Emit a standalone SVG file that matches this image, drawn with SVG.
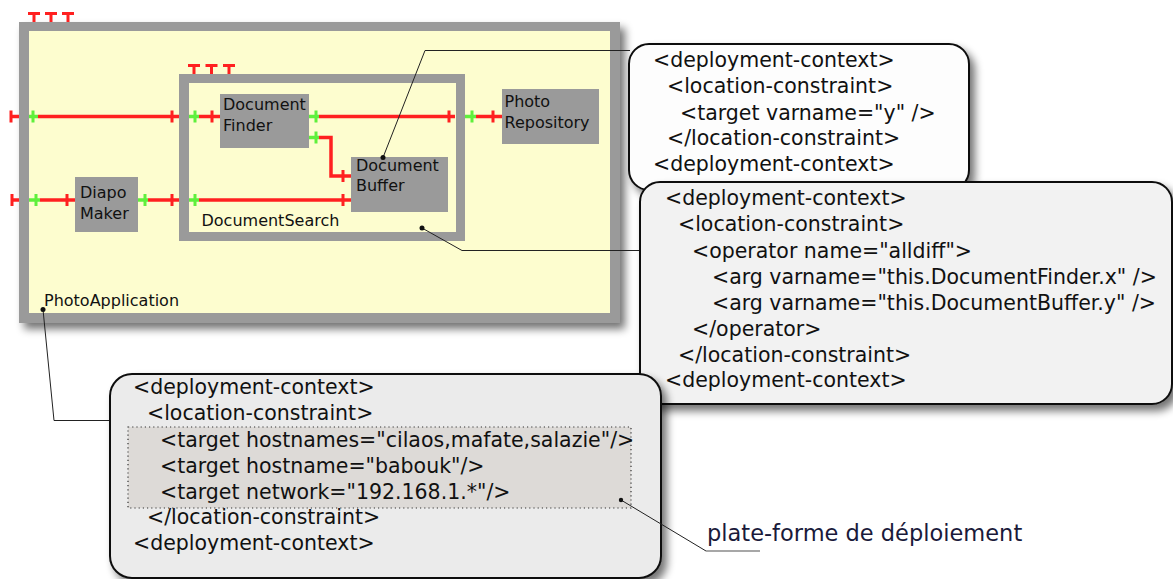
<svg xmlns="http://www.w3.org/2000/svg" width="1173" height="579" viewBox="0 0 1173 579">
<defs>
<filter id="sh" x="-10%" y="-10%" width="125%" height="130%">
<feGaussianBlur in="SourceAlpha" stdDeviation="4"/>
<feOffset dx="5" dy="6" result="b"/>
<feComponentTransfer><feFuncA type="linear" slope="0.55"/></feComponentTransfer>
<feMerge><feMergeNode/><feMergeNode in="SourceGraphic"/></feMerge>
</filter>
<style>
.frame{fill:#9a9a9a}
.inner{fill:#fdfdcf}
.node{fill:#9a9a9a}
.lbl{font-family:"DejaVu Sans","Liberation Sans",sans-serif;font-size:16px;fill:#111}
.xml{font-family:"DejaVu Sans","Liberation Sans",sans-serif;font-size:20.5px;fill:#111}
.wire{fill:none;stroke:#ff2020;stroke-width:3.5}
.gw{fill:none;stroke:#5ff03c;stroke-width:3.5}
.rt{fill:none;stroke:#ff2020;stroke-width:3}
.gt{fill:none;stroke:#5ff03c;stroke-width:3}
.lead{fill:none;stroke:#222;stroke-width:1}
.dot{fill:#111}
.box{stroke:#111;stroke-width:2}
</style>
</defs>
<rect width="1173" height="579" fill="#ffffff"/>

<g id="photoapplication">
<g filter="url(#sh)">
<rect class="frame" x="19" y="22" width="601" height="301"/>
</g>
<rect class="inner" x="29" y="31" width="581" height="282"/>
<path class="rt" d="M28,13.5 H40 M34,13.5 V22 M45,13.5 H57 M51,13.5 V22 M62,13.5 H74 M68,13.5 V22"/>
<text class="lbl" x="44" y="305.5">PhotoApplication</text>
</g>

<g id="documentsearch">
<rect class="frame" x="179" y="74" width="286" height="167"/>
<rect class="inner" x="189" y="83" width="267" height="149"/>
<path class="rt" d="M188,65.5 H200 M194,65.5 V74 M205.5,65.5 H217.5 M211.5,65.5 V74 M223,65.5 H235 M229,65.5 V74"/>
<text class="lbl" x="201.5" y="225.5">DocumentSearch</text>
</g>

<g id="documentfinder">
<rect class="node" x="220" y="94" width="89" height="54"/>
<text class="lbl" x="223" y="110">Document</text>
<text class="lbl" x="223" y="131">Finder</text>
</g>

<g id="documentbuffer">
<rect class="node" x="351" y="157" width="97" height="55"/>
<text class="lbl" x="356" y="170.5">Document</text>
<text class="lbl" x="356" y="191">Buffer</text>
</g>

<g id="diapomaker">
<rect class="node" x="75" y="177" width="63" height="55"/>
<text class="lbl" x="80" y="197.5">Diapo</text>
<text class="lbl" x="80" y="218.5">Maker</text>
</g>

<g id="photorepository">
<rect class="node" x="502" y="89" width="97" height="55"/>
<text class="lbl" x="504.5" y="106.5">Photo</text>
<text class="lbl" x="504.5" y="127.5">Repository</text>
</g>

<g id="connectors">
<path class="wire" d="M11,116.5 H19 M38,116.5 H179 M199,116.5 H220 M319,116.5 H455 M476,116.5 H502"/>
<path class="gw" d="M29,116.5 H38 M189,116.5 H199 M309,116.5 H319 M465,116.5 H476"/>
<path class="rt" d="M11,110.5 V122.5 M172,110.5 V122.5 M212,110.5 V122.5 M449,110.5 V122.5 M493,110.5 V122.5"/>
<path class="gt" d="M33,110.5 V122.5 M195,110.5 V122.5 M316,110.5 V122.5 M472,110.5 V122.5"/>
<path class="wire" d="M319,137.5 H331 V176 H351"/>
<path class="gw" d="M309,137.5 H319"/>
<path class="gt" d="M316,131.5 V143.5"/>
<path class="rt" d="M343,170 V182"/>
<path class="wire" d="M12,200 H19 M40,200 H75 M148,200 H179 M199,200 H351"/>
<path class="gw" d="M29,200 H40 M138,200 H148 M189,200 H199"/>
<path class="rt" d="M12,194 V206 M67,194 V206 M172,194 V206 M343,194 V206"/>
<path class="gt" d="M36,194 V206 M145,194 V206 M195,194 V206"/>
</g>

<g id="callout-links">
<polyline class="lead" points="383,157.5 425,50.5 630,50.5"/>
<circle class="dot" cx="383" cy="157.5" r="2.5"/>
<polyline class="lead" points="422,228 462,250.5 641,250.5"/>
<circle class="dot" cx="422" cy="228" r="2.5"/>
<polyline class="lead" points="43,309.5 54,420.5 111,420.5"/>
<circle class="dot" cx="43" cy="309.5" r="2.5"/>
</g>

<g id="callout-finder-buffer">
<rect class="box" x="629" y="44" width="340" height="146" rx="20" fill="#fdfdfd" filter="url(#sh)"/>
<text class="xml" x="653" y="67">&lt;deployment-context&gt;</text>
<text class="xml" x="667" y="93">&lt;location-constraint&gt;</text>
<text class="xml" x="680" y="119.5">&lt;target varname="y" /&gt;</text>
<text class="xml" x="667" y="145">&lt;/location-constraint&gt;</text>
<text class="xml" x="653" y="170.5">&lt;deployment-context&gt;</text>
</g>

<g id="callout-search">
<rect class="box" x="640" y="182" width="532" height="222" rx="20" fill="#f2f2f2" filter="url(#sh)"/>
<text class="xml" x="665" y="205">&lt;deployment-context&gt;</text>
<text class="xml" x="678" y="231">&lt;location-constraint&gt;</text>
<text class="xml" x="692" y="257.5">&lt;operator name="alldiff"&gt;</text>
<text class="xml" x="712" y="284">&lt;arg varname="this.DocumentFinder.x" /&gt;</text>
<text class="xml" x="712" y="310">&lt;arg varname="this.DocumentBuffer.y" /&gt;</text>
<text class="xml" x="692" y="336">&lt;/operator&gt;</text>
<text class="xml" x="678" y="361.5">&lt;/location-constraint&gt;</text>
<text class="xml" x="665" y="387">&lt;deployment-context&gt;</text>
</g>

<g id="callout-application">
<rect class="box" x="110" y="374" width="551" height="204" rx="22" fill="#ebebeb" filter="url(#sh)"/>
<rect x="128" y="427" width="503" height="81" fill="#dddad7" stroke="#333" stroke-width="1.2" stroke-dasharray="1.2,3"/>
<text class="xml" x="133" y="394">&lt;deployment-context&gt;</text>
<text class="xml" x="147" y="420">&lt;location-constraint&gt;</text>
<text class="xml" x="160" y="446.5">&lt;target hostnames="cilaos,mafate,salazie"/&gt;</text>
<text class="xml" x="160" y="472.5">&lt;target hostname="babouk"/&gt;</text>
<text class="xml" x="160" y="498.5">&lt;target network="192.168.1.*"/&gt;</text>
<text class="xml" x="147" y="524">&lt;/location-constraint&gt;</text>
<text class="xml" x="133" y="550">&lt;deployment-context&gt;</text>
</g>

<g id="platform-label">
<polyline class="lead" points="621,500 706,551" stroke="#333"/>
<line x1="706" y1="551" x2="760" y2="551" stroke="#8a8a8a" stroke-width="1.5"/>
<circle class="dot" cx="621" cy="500" r="2.2"/>
<text x="707" y="541" font-family="DejaVu Sans, Liberation Sans, sans-serif" font-size="22.5" fill="#1a1a3a">plate-forme de déploiement</text>
</g>
</svg>
